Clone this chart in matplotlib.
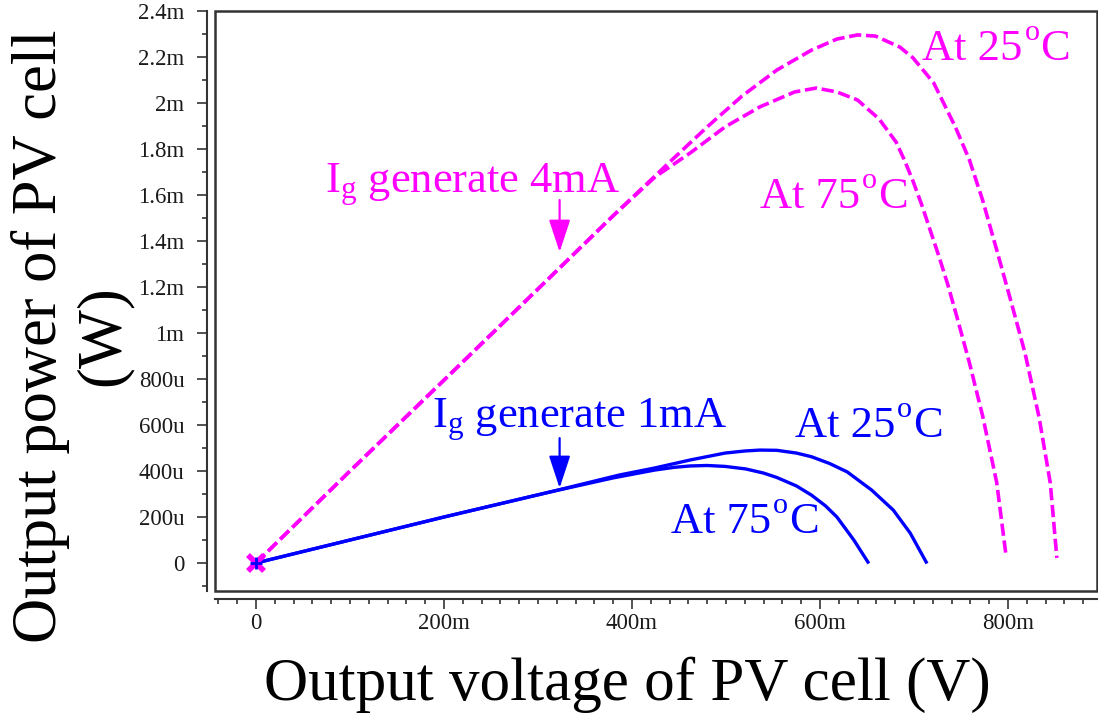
import matplotlib
matplotlib.use("Agg")
import matplotlib.pyplot as plt
from matplotlib.patches import Rectangle

plt.rcParams['mathtext.fontset'] = 'custom'
plt.rcParams['mathtext.rm'] = 'Liberation Serif'
plt.rcParams['mathtext.it'] = 'Liberation Serif:italic'

# ---- data (voltage in mV, power in mW) ----
v_4mA_25 = [0, 100, 200, 313, 380, 439, 480, 517, 554, 591, 618, 640, 659, 685, 699,
            721, 744, 759, 773, 788, 803, 818, 833, 845, 852]
p_4mA_25 = [0, 0.40, 0.795, 1.243, 1.51, 1.739, 1.896, 2.030, 2.143, 2.230, 2.278, 2.296,
            2.291, 2.243, 2.196, 2.087, 1.896, 1.752, 1.578, 1.361, 1.140, 0.915, 0.635,
            0.348, 0.022]

v_4mA_75 = [0, 100, 200, 313, 380, 425, 462, 499, 536, 573, 596, 618, 640, 663, 681, 690,
            699, 708, 717, 726, 736, 746, 759, 773, 788, 798]
p_4mA_75 = [0, 0.40, 0.795, 1.243, 1.51, 1.68, 1.783, 1.896, 1.983, 2.048, 2.065, 2.048,
            2.013, 1.930, 1.83, 1.75, 1.66, 1.56, 1.45, 1.34, 1.21, 1.065, 0.870, 0.640,
            0.350, 0.030]

v_1mA_25 = [0, 100, 200, 313, 387, 424, 462, 499, 520, 536, 554, 575, 591, 610, 629, 655,
            678, 696, 713]
p_1mA_25 = [0, 0.10, 0.20, 0.309, 0.383, 0.413, 0.448, 0.478, 0.487, 0.491, 0.490, 0.478,
            0.462, 0.433, 0.396, 0.317, 0.230, 0.130, 0.004]

v_1mA_75 = [0, 100, 200, 313, 380, 424, 445, 462, 480, 499, 521, 540, 554, 575, 591, 606,
            618, 636, 651]
p_1mA_75 = [0, 0.10, 0.20, 0.309, 0.370, 0.404, 0.416, 0.422, 0.424, 0.420, 0.409, 0.391,
            0.372, 0.335, 0.295, 0.248, 0.200, 0.100, 0.004]

x_ticks = [0, 200, 400, 600, 800]
x_ticklabels = ['0', '200m', '400m', '600m', '800m']
y_ticks = [0, 0.2, 0.4, 0.6, 0.8, 1.0, 1.2, 1.4, 1.6, 1.8, 2.0, 2.2, 2.4]
y_ticklabels = ['0', '200u', '400u', '600u', '800u', '1m', '1.2m', '1.4m', '1.6m',
                '1.8m', '2m', '2.2m', '2.4m']

MAG = '#FF00FF'
BLU = '#0000FF'
W, H = 1098, 715
SERIF = 'Liberation Serif'

fig = plt.figure(figsize=(W / 100, H / 100), dpi=100)
ax = fig.add_axes([215 / W, 1 - 591 / H, (1097 - 215) / W, (591 - 11) / H])

ax.set_xlim(-43.6, 894.7)
ax.set_ylim(-0.1217, 2.4)

dash = (3.4, 1.3)
l1, = ax.plot(v_4mA_25, p_4mA_25, color=MAG, lw=2.6)
l1.set_dashes(dash)
l2, = ax.plot(v_4mA_75, p_4mA_75, color=MAG, lw=2.6)
l2.set_dashes(dash)
ax.plot(v_1mA_25, p_1mA_25, color=BLU, lw=2.4)
ax.plot(v_1mA_75, p_1mA_75, color=BLU, lw=2.4)

ax.plot([0], [0], marker='x', ms=11, mew=4, color=MAG, zorder=5)
ax.plot([0], [0], marker='+', ms=8, mew=2, color=BLU, zorder=6)

# axes style: outward tick axes + inner box
for s in ['top', 'right']:
    ax.spines[s].set_visible(False)
for s in ['left', 'bottom']:
    ax.spines[s].set_position(('outward', 5.8))
    ax.spines[s].set_color('#333333')
    ax.spines[s].set_linewidth(1.5)
ax.add_patch(Rectangle((0, 0), 1, 1, transform=ax.transAxes, fill=False,
                       ec='#333333', lw=1.8, clip_on=False, zorder=10))

ax.set_xticks(x_ticks)
ax.set_xticklabels(x_ticklabels)
ax.set_yticks(y_ticks)
ax.set_yticklabels(y_ticklabels)
ax.set_xticks([v for v in range(-40, 900, 20)], minor=True)
ax.set_yticks([i * 0.1 for i in range(-1, 25)], minor=True)
ax.tick_params(which='major', length=7.2, width=1.2, color='#333333',
               labelsize=16.5, labelcolor='#1a1a1a')
ax.tick_params(which='minor', length=3.6, width=1.2, color='#333333')
ax.tick_params(axis='y', which='major', pad=9)
ax.tick_params(axis='x', which='major', pad=3)
for lab in ax.get_xticklabels() + ax.get_yticklabels():
    lab.set_family(SERIF)

renderer = fig.canvas.get_renderer()


def ftxt(x, y, s, color, size=32):
    return fig.text(x / W, 1 - y / H, s, color=color, fontsize=size, family=SERIF,
                    ha='left', va='baseline')


def deg_label(x, y, num, color, size=32):
    t = ftxt(x, y, 'At ' + num, color, size)
    x1 = t.get_window_extent(renderer).x1
    px = x1 + 2
    raise_px = 0.45 * size * 100 / 72
    t2 = fig.text(px / W, (H - y + raise_px) / H, 'o', color=color,
                  fontsize=size * 0.68, family=SERIF, ha='left', va='baseline')
    x2 = t2.get_window_extent(renderer).x1
    fig.text((x2 + 1) / W, 1 - y / H, 'C', color=color, fontsize=size, family=SERIF,
             ha='left', va='baseline')


ftxt(325, 193, r'I$_{\mathrm{g}}$ generate 4mA', MAG)
ftxt(432, 428, r'I$_{\mathrm{g}}$ generate 1mA', BLU)
deg_label(922, 60, '25', MAG)
deg_label(760, 208, '75', MAG)
deg_label(795, 437, '25', BLU)
deg_label(671, 533, '75', BLU)

arrow_style = dict(arrowstyle='-|>,head_length=1.0,head_width=0.33',
                   mutation_scale=20, lw=1.6, shrinkA=0, shrinkB=0)
ax.annotate('', xy=(323, 1.352), xytext=(323, 1.578),
            arrowprops=dict(color=MAG, **arrow_style))
ax.annotate('', xy=(323, 0.326), xytext=(323, 0.543),
            arrowprops=dict(color=BLU, **arrow_style))

fig.text(627 / W, 1 - 700 / H, 'Output voltage of PV cell (V)', fontsize=44,
         family=SERIF, ha='center', va='baseline', color='black')
fig.text(72 / W, 1 - 336 / H, 'Output power of PV cell\n(W)', fontsize=45,
         family=SERIF, ha='center', va='center', rotation=90,
         multialignment='center', color='black', linespacing=1.12)

fig.savefig('out.png', dpi=100)
